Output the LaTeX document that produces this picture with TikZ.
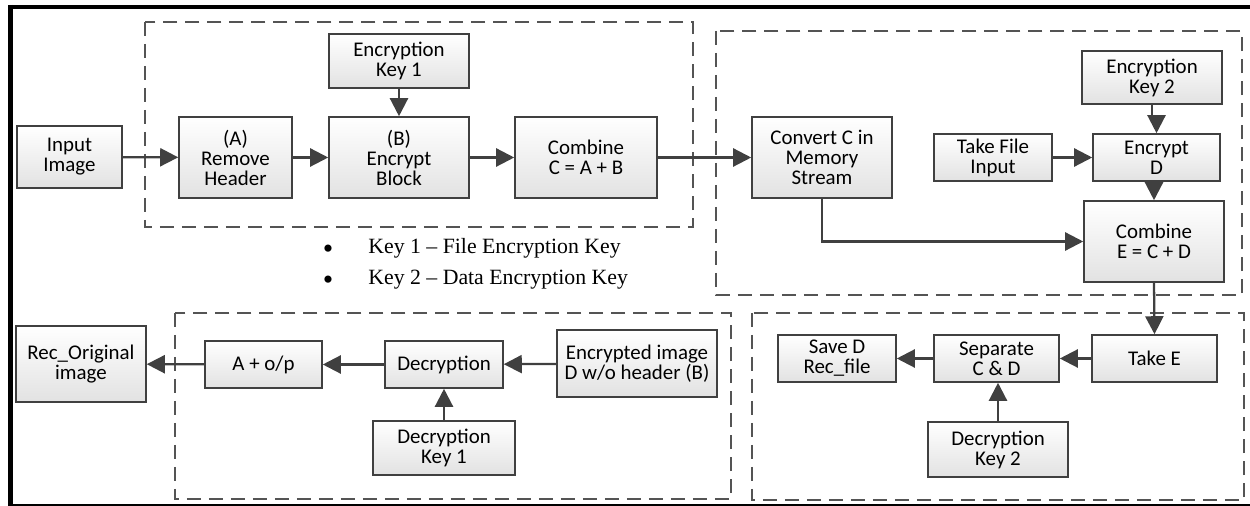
\documentclass[tikz,border=0pt]{standalone}
\usepackage{fontspec}
\setmainfont{Carlito}
\newfontfamily\notefont{Liberation Serif}
\definecolor{bxedge}{RGB}{64,64,64}
\definecolor{bxfill}{RGB}{226,226,226}
\definecolor{dashgray}{RGB}{84,84,84}
\usetikzlibrary{arrows.meta,positioning,calc}

\begin{document}
\begin{tikzpicture}[x=0.02cm,y=-0.02cm,
  block/.style={draw=bxedge,line width=0.9pt,top color=white,bottom color=bxfill,
    inner sep=0pt,align=center,font=\fontsize{11.9}{11.4}\selectfont},
  grp/.style={draw=dashgray,line width=0.8pt,dash pattern=on 0.28cm off 0.16cm},
  flow/.style={draw=bxedge,line width=1.3pt,-{Triangle[length=0.36cm,width=0.36cm]}},
  note/.style={font=\notefont\fontsize{12.4}{14}\selectfont,inner sep=0pt},
  dot/.style={font=\notefont\fontsize{17}{17}\selectfont,inner sep=0pt}
]
  \useasboundingbox (0,0) rectangle (1250,506);
  % page frame
  \draw[line width=0.08cm] (8,7) -- (1250,7);
  \draw[line width=0.1cm] (10.8,5) -- (10.8,506);
  \draw[line width=0.03cm] (10.8,505) -- (1250,505);
  % dashed stages
  \draw[grp] (145,22) rectangle (693,227);
  \draw[grp] (716,31) rectangle (1242,295);
  \draw[grp] (175,313) rectangle (731,499);
  \draw[grp] (752,313) rectangle (1244,500);
  % stage 1: file encryption
  \node[block,minimum width=2.10cm,minimum height=1.24cm] (inimg) at (69.5,157) {Input\\Image};
  \node[block,minimum width=2.26cm,minimum height=1.62cm] (remhdr) at (235.5,157.5) {(A)\\Remove\\Header};
  \node[block,minimum width=2.80cm,minimum height=1.08cm] (key1) at (399,61) {Encryption\\Key 1};
  \node[block,minimum width=2.80cm,minimum height=1.62cm] (encblk) at (399,157.5) {(B)\\Encrypt\\Block};
  \node[block,minimum width=2.84cm,minimum height=1.62cm] (comb1) at (586,157.5) {Combine\\C = A + B};
  % stage 2: data encryption
  \node[block,minimum width=2.80cm,minimum height=1.62cm] (conv) at (822,157.5) {Convert C in\\Memory\\Stream};
  \node[block,minimum width=2.36cm,minimum height=0.94cm] (takefile) at (993,157.5) {Take File\\Input};
  \node[block,minimum width=2.80cm,minimum height=1.06cm] (key2) at (1152,77.5) {Encryption\\Key 2};
  \node[block,minimum width=2.54cm,minimum height=0.94cm] (encD) at (1156.5,157.5) {Encrypt\\D};
  \node[block,minimum width=2.80cm,minimum height=1.62cm] (combE) at (1154,241.5) {Combine\\E = C + D};
  % stage 3: separation
  \node[block,minimum width=2.50cm,minimum height=0.94cm] (takeE) at (1154.5,358.5) {Take E};
  \node[block,minimum width=2.50cm,minimum height=0.94cm] (sep) at (996.5,358.5) {Separate\\C \& D};
  \node[block,minimum width=2.36cm,minimum height=0.94cm] (saveD) at (837,358.5) {Save D\\Rec\_file};
  \node[block,minimum width=2.80cm,minimum height=1.10cm] (dkey2) at (998,449.5) {Decryption\\Key 2};
  % stage 4: decryption
  \node[block,minimum width=3.20cm,minimum height=1.34cm] (encimg) at (637,363.5) {Encrypted image\\D w/o header (B)};
  \node[block,minimum width=2.36cm,minimum height=0.94cm] (decr) at (444,364.5) {Decryption};
  \node[block,minimum width=2.84cm,minimum height=1.08cm] (dkey1) at (444,448) {Decryption\\Key 1};
  \node[block,minimum width=2.34cm,minimum height=0.94cm] (aop) at (263.5,364.5) {A + o/p};
  \node[block,minimum width=2.60cm,minimum height=1.52cm] (recimg) at (81,364) {Rec\_Original\\image};
  % key legend
  \node[dot,anchor=base] (bul1) at (328,259) {•};
  \node[note,anchor=base west] (leg1) at (368,254) {Key 1 – File Encryption Key};
  \node[dot,anchor=base] (bul2) at (328,290) {•};
  \node[note,anchor=base west] (leg2) at (368,285) {Key 2 – Data Encryption Key};
  % connectors
  \draw[flow] (inimg) -- (remhdr);
  \draw[flow] (remhdr) -- (encblk);
  \draw[flow] (key1) -- (encblk);
  \draw[flow] (encblk) -- (comb1);
  \draw[flow] (comb1) -- (conv);
  \draw[flow] (conv.south) |- (combE.west);
  \draw[flow] (takefile) -- (encD);
  \draw[flow] (key2.south) -- ++(0,14) -| (encD.north);
  \draw[flow] (encD.south) -- ++(0,5) -| (combE.north);
  \draw[flow] (combE.south) -- (takeE.north);
  \draw[flow] (takeE) -- (sep);
  \draw[flow] (sep) -- (saveD);
  \draw[flow] (dkey2.north) -- (dkey2.north |- sep.south);
  \draw[flow] (encimg) -- (decr);
  \draw[flow] (dkey1) -- (decr);
  \draw[flow] (decr) -- (aop);
  \draw[flow] (aop) -- (recimg);
\end{tikzpicture}
\end{document}
